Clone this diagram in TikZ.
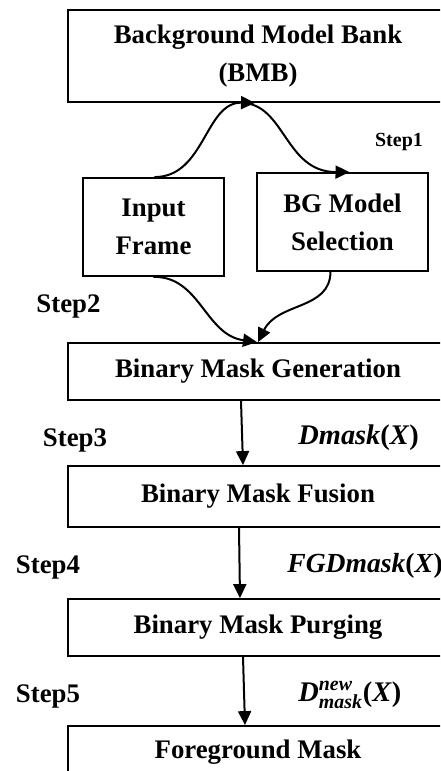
\documentclass[tikz,border=0pt]{standalone}
\usepackage{fontspec}
\setmainfont{Liberation Serif}
\usepackage{amsmath}
\usetikzlibrary{arrows.meta}
\newcommand{\bi}[1]{\textbf{\textit{#1}}}
\begin{document}
\begin{tikzpicture}[x=0.5pt,y=-0.5pt,
  box/.style={draw,line width=0.9pt,rectangle,inner sep=0pt,align=center,
    font=\bfseries\fontsize{13.4}{19}\selectfont},
  steplabel/.style={anchor=base,inner sep=0pt,font=\bfseries\fontsize{13.4}{16}\selectfont},
  mathlabel/.style={anchor=base west,inner sep=0pt,font=\bfseries\fontsize{14.2}{16}\selectfont},
  conn/.style={line width=1pt,-{Triangle[length=7pt,width=6.5pt]}}]
\useasboundingbox (0,0) rectangle (440,771);
\clip (0,0) rectangle (440,771);
% boxes
\node[box,minimum width=190pt,minimum height=46pt] (bmb) at (258,56) {Background Model Bank\\(BMB)};
\node[box,minimum width=70.5pt,minimum height=49pt] (inp) at (153.5,227) {Input\\Frame};
\node[box,minimum width=85.5pt,minimum height=49pt] (bg) at (342.5,222) {BG Model\\Selection};
\node[box,minimum width=190pt,minimum height=28.5pt] (gen) at (258,371.5) {Binary Mask Generation};
\node[box,minimum width=190pt,minimum height=30.5pt] (fus) at (258,496.5) {Binary Mask Fusion};
\node[box,minimum width=190pt,minimum height=28.5pt] (pur) at (258,627.5) {Binary Mask Purging};
\node[box,minimum width=190pt,minimum height=26pt] (fore) at (258,752) {Foreground Mask};
% labels
\node[steplabel,font=\bfseries\fontsize{10}{12}\selectfont] (s1) at (399,146) {Step1};
\node[steplabel] (s2) at (68.5,312) {Step2};
\node[steplabel] (s3) at (75,446) {Step3};
\node[steplabel] (s4) at (48,573) {Step4};
\node[steplabel] (s5) at (48,702) {Step5};
\node[mathlabel] (m1) at (298,444) {\bi{Dmask}(\bi{X})};
\node[mathlabel,font=\bfseries\fontsize{13.8}{16}\selectfont] (m2) at (287,572) {\bi{FGDmask}(\bi{X})};
\node[mathlabel] (m3) at (298,701) {$\text{\bi{D}}^{\text{\bi{new}}}_{\text{\bi{mask}}}$(\bi{X})};
% connectors
\coordinate (top) at ([xshift=-1.5pt]bmb.south);
\draw[conn] ([xshift=0.5pt]inp.north) .. controls (205,177) and (205,102) .. (top);
\draw[conn] ([xshift=-8pt]bmb.south) .. controls (285,104) and (285,172) .. ([xshift=3.5pt]bg.north);
\draw[conn] (inp.south) .. controls (200,276) and (205,335) .. ([xshift=-0.5pt]gen.north);
\draw[conn] ([xshift=-6pt]bg.south) .. controls (330,310) and (278,302) .. ([xshift=0pt]gen.north);
\draw[conn] ([xshift=-8.5pt]gen.south) -- ([xshift=-7.5pt]fus.north);
\draw[conn] ([xshift=-9.5pt]fus.south) -- ([xshift=-9pt]pur.north);
\draw[conn] ([xshift=-7.5pt]pur.south) -- ([xshift=-6.5pt]fore.north);
\end{tikzpicture}
\end{document}
